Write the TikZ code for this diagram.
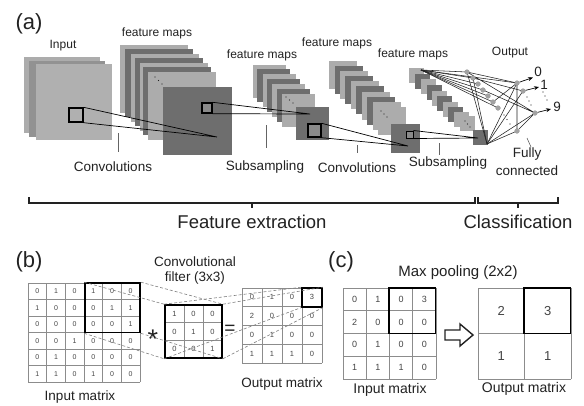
\documentclass[tikz,border=0pt]{standalone}
\usepackage{fontspec}
\setmainfont{Liberation Sans}
\usetikzlibrary{arrows.meta}

\definecolor{ink}{HTML}{222222}
\definecolor{mapLight}{HTML}{ACACAC}
\definecolor{mapDark}{HTML}{6E6E6E}
\definecolor{mapMid}{HTML}{929292}
\definecolor{winFill}{HTML}{8A8A8A}
\definecolor{gridGray}{HTML}{8C8C8C}
\definecolor{numGray}{HTML}{444444}
\definecolor{unitGray}{HTML}{A2A2A2}

% grid of cells: x0, y0, columns, rows, cell width, cell height
\newcommand\cellgrid[6]{%
  \foreach \i in {0,...,#3} \draw[gridline] ({#1+\i*#5},#2) -- ({#1+\i*#5},{#2+#4*#6});
  \foreach \j in {0,...,#4} \draw[gridline] (#1,{#2+\j*#6}) -- ({#1+#3*#5},{#2+\j*#6});
}

\begin{document}
\begin{tikzpicture}[x=1pt,y=-1pt,
  every node/.style={inner sep=0pt, text=ink},
  tag/.style={font=\fontsize{22}{24}\selectfont},
  lbl/.style={font=\fontsize{13.5}{15}\selectfont},
  small/.style={font=\fontsize{12}{14}\selectfont},
  big/.style={font=\fontsize{18.5}{20}\selectfont},
  gridline/.style={draw=gridGray, line width=0.6pt},
  thickbox/.style={draw=black, line width=1.6pt, fill=none},
  win/.style={draw=black, line width=1.4pt, fill=winFill},
  lead/.style={draw=ink!70, line width=0.6pt},
  conv/.style={draw=black, line width=0.7pt},
  fc/.style={draw=ink, line width=0.55pt},
  unit/.style={circle, fill=unitGray, minimum size=5pt},
  dotmark/.style={circle, fill=ink, minimum size=1.4pt},
  hint/.style={draw=gray, dashed, dash pattern=on 3pt off 2pt, line width=0.6pt},
  brace/.style={draw=ink, line width=1.3pt},
  num/.style={font=\fontsize{7}{8}\selectfont, text=numGray},
]
\useasboundingbox (0,0) rectangle (584,405);
\fill[white] (0,0) rectangle (584,405);

%% ---------------- (a) the network ----------------
\node[tag] (taga) at (29,24) {(a)};

% input image
\fill[mapLight] (24,57) rectangle ++(76,76);
\fill[mapMid]   (29,61) rectangle ++(76,76);
\fill[mapLight!95!white] (36,64) rectangle ++(76,76);
\node[small] (lin) at (63,46) {Input};

% first convolution maps
\foreach \x/\y/\c in {120/45/mapLight,125/49/mapDark,131/54/mapLight,135/58/mapDark,140/63/mapLight,143/67/mapDark,148/72/mapLight}
  \fill[\c] (\x,\y) rectangle ++(68,68);
\fill[mapDark] (163,87) rectangle ++(69,68);
\foreach \p in {(155,77),(158.5,80.5),(162,84)} \node[dotmark] at \p {};
\node[small] (lf1) at (157,33) {feature maps};

% first subsampling maps
\foreach \x/\y/\c in {253/65/mapLight,257/69/mapDark,263/74/mapLight,267/79/mapDark,272/84/mapLight,277/89/mapDark,282/94/mapLight}
  \fill[\c] (\x,\y) rectangle ++(33,33);
\fill[mapDark] (296,107) rectangle ++(33,33);
\foreach \p in {(286,97),(289.5,100),(293,103)} \node[dotmark] at \p {};
\node[small] (lf2) at (262,55) {feature maps};

% second convolution maps
\foreach \x/\y/\c in {329/61/mapLight,335/66/mapDark,340/71/mapLight,345/76/mapDark,351/81/mapLight,356/86/mapDark,362/92/mapLight,367/97/mapDark,373/102/mapLight,378/107/mapLight}
  \fill[\c] (\x,\y) rectangle ++(28,28);
\fill[mapDark] (391,124) rectangle ++(29,29);
\foreach \p in {(381,111),(384,114),(387,117)} \node[dotmark] at \p {};
\node[small] (lf3) at (337,43) {feature maps};

% second subsampling maps
\foreach \x/\y/\c in {409/68/mapLight,415/74/mapDark,421/79/mapLight,427/85/mapDark,432/91/mapLight,437/96/mapDark,443/102/mapLight,448/107/mapDark,454/112/mapLight,460/116/mapLight}
  \fill[\c] (\x,\y) rectangle ++(15,15);
\fill[mapDark] (473,130) rectangle ++(15,15);
\foreach \p in {(465,121),(467.5,124),(470,127)} \node[dotmark, minimum size=1.2pt] at \p {};
\node[small] (lf4) at (413,54) {feature maps};

% receptive-field windows
\node[win, fill=none, minimum size=14pt] (w1) at (76,115) {};
\node[win, minimum size=10pt] (w2) at (207,108) {};
\node[win, minimum size=13pt] (w3) at (314.5,130.5) {};
\node[win, line width=1pt, minimum size=7pt] (w4) at (409.5,134.5) {};
\coordinate (c1) at (217,137);
\coordinate (c2) at (310,114);
\coordinate (c3) at (408,146);
\coordinate (c4) at (478,138);
\draw[conv] (w1.north east) -- (c1) (w1.south east) -- (c1);
\draw[conv] (w2.north east) -- (c2) (w2.south east) -- (c2);
\draw[conv] (w3.north east) -- (c3) (w3.south east) -- (c3);
\draw[conv] (w4.north east) -- (c4) (w4.south east) -- (c4);

% fully connected part
\coordinate (fa) at (421,70);
\coordinate (fb) at (487,144);
\node[unit] (h1) at (467,72) {};
\node[unit] (h2) at (473,78) {};
\node[unit] (h3) at (478,84) {};
\node[unit] (h4) at (483,90) {};
\node[unit] (h5) at (488,96) {};
\node[unit] (h6) at (493,102) {};
\node[unit] (h7) at (498,108) {};
\node[unit] (h8) at (517,131) {};
\node[unit] (o0) at (517,83) {};
\node[unit] (o1) at (523,91) {};
\node[unit] (o9) at (535,113) {};
\foreach \h in {h1,h2,h3,h4,h5,h6,h7} \draw[fc] (fa) -- (\h.center);
\draw[fc] (fa) -- (o0.center);
\foreach \h in {h1,h2,o0,o1,o9,h8} \draw[fc] (fb) -- (\h.center);
\draw[fc] (h1.center) -- (o0.center) (h1.center) -- (o9.center) (h2.center) -- (o1.center)
  (h4.center) -- (o9.center) (h8.center) -- (o0.center) (h8.center) -- (o9.center) (h6.center) -- (o0.center);
% units again, above the wires
\foreach \h in {h1,h2,h3,h4,h5,h6,h7,h8,o0,o1,o9}
  \fill[unitGray] (\h.center) circle (2.5pt);
\foreach \p in {(504,115),(507,119.5),(510,124),(527,97),(529,101),(531,105),(543,92),(545,96),(547,100)}
  \node[dotmark, minimum size=1.2pt] at \p {};
\coordinate (e0) at (533,77.5);
\coordinate (e1) at (539,87);
\coordinate (e9) at (551,109);
\draw[conv, -{Stealth[length=5pt,width=4pt]}] (o0) -- (e0);
\draw[conv, -{Stealth[length=5pt,width=4pt]}] (o1) -- (e1);
\draw[conv, -{Stealth[length=5pt,width=4pt]}] (o9) -- (e9);
\node[lbl] (n0) at (538,72) {0};
\node[lbl] (n1) at (544,85) {1};
\node[lbl] (n9) at (557,107) {9};
\node[small] (lout) at (510,53) {Output};

% stage captions and their leaders
\node[lbl] (s1) at (113,167) {Convolutions};
\node[lbl] (s2) at (265,167) {Subsampling};
\node[lbl] (s3) at (357,168) {Convolutions};
\node[lbl] (s4) at (448,163) {Subsampling};
\node[lbl] (s5a) at (527,154) {Fully};
\node[lbl] (s5b) at (527,171) {connected};
\coordinate (t1) at (118,133); \coordinate (b1) at (118,152);
\coordinate (t2) at (266,125); \coordinate (b2) at (266,148);
\coordinate (t3) at (357,145); \coordinate (b3) at (357,153);
\coordinate (t4) at (439,143); \coordinate (b4) at (439,155);
\coordinate (t5) at (527,138); \coordinate (b5) at (531,147);
\foreach \i in {1,...,5} \draw[lead] (t\i) -- (b\i);

% braces
\draw[brace] (29,197) -- (29,203) -- (475,203) -- (475,197);
\draw[brace] (252,203) -- (252,208);
\draw[brace] (478,197) -- (478,203) -- (558,203) -- (558,197);
\draw[brace] (518,203) -- (518,208);
\node[big] (fe) at (252,222) {Feature extraction};
\node[big] (cl) at (518,222) {Classification};

%% ---------------- (b) convolution ----------------
\node[tag] (tagb) at (29,262) {(b)};
\node[lbl] (cf1) at (195,262) {Convolutional};
\node[lbl] (cf2) at (195,278) {filter (3x3)};

% input matrix 6x6
\cellgrid{28}{283}{6}{6}{18.67}{16.5}
\foreach \row [count=\r] in {{0,1,0,1,0,0},{1,0,0,0,1,1},{0,0,0,0,0,1},{0,0,1,0,0,0},{0,1,0,0,0,0},{1,1,0,1,0,0}}
  \foreach \v [count=\c] in \row
    \node[num] at ({28+(\c-0.5)*18.67},{283+(\r-0.5)*16.5}) {\v};
\node[thickbox, minimum width=55pt, minimum height=49.5pt] (ibox) at (112.5,307.75) {};
\node[lbl] (lim) at (80,397) {Input matrix};

% filter 3x3
\cellgrid{165}{305}{3}{3}{19}{17.67}
\foreach \row [count=\r] in {{1,0,0},{0,1,0},{0,0,1}}
  \foreach \v [count=\c] in \row
    \node[num, font=\fontsize{7.5}{8}\selectfont] at ({165+(\c-0.5)*19},{305+(\r-0.5)*17.67}) {\v};
\node[thickbox, minimum width=57pt, minimum height=53pt] (filt) at (193.5,331.5) {};

% output matrix 4x4
\cellgrid{242}{288}{4}{4}{20}{18.75}
\foreach \row [count=\r] in {{0,1,0,3},{2,0,0,0},{0,1,0,0},{1,1,1,0}}
  \foreach \v [count=\c] in \row
    \node[num, font=\fontsize{7.5}{8}\selectfont] at ({242+(\c-0.5)*20},{288+(\r-0.5)*18.75}) {\v};
\node[thickbox, minimum width=20pt, minimum height=18.75pt] (obox) at (312,297.4) {};
\node[lbl] (lom) at (282,384) {Output matrix};

\node[font=\fontsize{27}{28}\selectfont] (star) at (153,339) {*};
\node[font=\fontsize{19}{20}\selectfont] (eq) at (230,330) {=};

% correspondence lines
\draw[hint] (ibox.north west) -- (filt.north west);
\draw[hint] (ibox.north east) -- (filt.north east);
\draw[hint] (ibox.south west) -- (filt.south west);
\draw[hint] (ibox.south east) -- (filt.south east);
\draw[hint] (filt.north west) -- (obox.north west);
\draw[hint] (filt.north east) -- (obox.north east);
\draw[hint] (filt.south west) -- (obox.south west);
\draw[hint] (filt.south east) -- (obox.south east);

%% ---------------- (c) max pooling ----------------
\node[tag] (tagc) at (341,262) {(c)};
\node[font=\fontsize{15}{17}\selectfont] (mp) at (458,273) {Max pooling (2x2)};

\cellgrid{343}{288}{4}{4}{23.25}{22.75}
\foreach \row [count=\r] in {{0,1,0,3},{2,0,0,0},{0,1,0,0},{1,1,1,0}}
  \foreach \v [count=\c] in \row
    \node[num, font=\fontsize{9}{10}\selectfont] at ({343+(\c-0.5)*23.25},{288+(\r-0.5)*22.75}) {\v};
\node[thickbox, minimum width=46.5pt, minimum height=45.5pt] (pbox) at (412.25,310.75) {};
\node[lbl, font=\fontsize{14}{16}\selectfont] (lpi) at (390,390) {Input matrix};

\cellgrid{478}{288}{2}{2}{46.5}{45.5}
\foreach \row [count=\r] in {{2,3},{1,1}}
  \foreach \v [count=\c] in \row
    \node[font=\fontsize{13}{14}\selectfont, text=numGray] at ({478+(\c-0.5)*46.5},{288+(\r-0.5)*45.5}) {\v};
\node[thickbox, minimum width=46.5pt, minimum height=45.5pt] (qbox) at (547.25,310.75) {};
\node[lbl, font=\fontsize{14}{16}\selectfont] (lpo) at (524,389) {Output matrix};

% hollow arrow between the matrices
\draw[draw=ink, line width=1.4pt, fill=white]
  (445,330) -- (460,330) -- (460,324) -- (473,335) -- (460,346) -- (460,340) -- (445,340) -- cycle;
\end{tikzpicture}
\end{document}
